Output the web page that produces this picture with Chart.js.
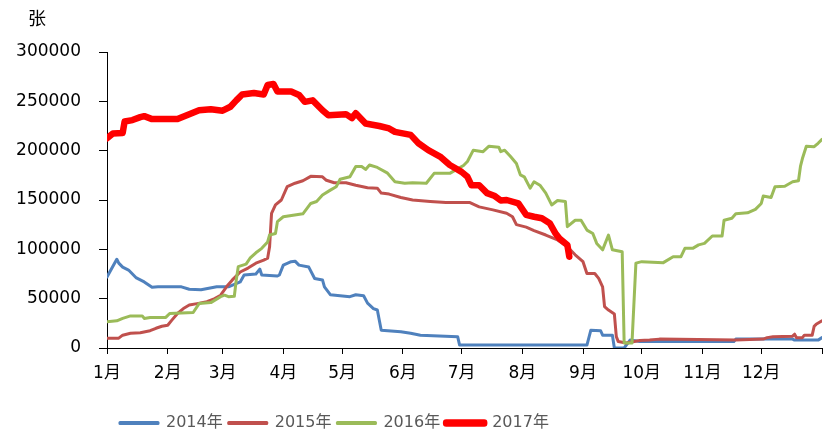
<!DOCTYPE html>
<html>
<head>
<meta charset="utf-8">
<script src="https://cdn.jsdelivr.net/npm/chart.js@4/dist/chart.umd.min.js"></script>
<style>
  html, body { margin: 0; padding: 0; background: #fff; }
</style>
</head>
<body>
<canvas id="grafico" width="836" height="430"></canvas>
<script>
// Eixo x: dia do ano (0 = 1 de janeiro)
const monthLabels = ['1月', '2月', '3月', '4月', '5月', '6月', '7月', '8月', '9月', '10月', '11月', '12月'];
const monthStarts = [0, 31, 59, 90, 120, 151, 181, 212, 243, 273, 304, 334, 365];
const yTicks = [0, 50000, 100000, 150000, 200000, 250000, 300000];
const seriesNames = ['2014年', '2015年', '2016年', '2017年'];

// [dia, valor]
const series2014 = [
    [0, 72000], [5, 90000], [6, 86000], [8, 82000], [11, 79000], [15, 71000], [19, 67000],
    [23, 61500], [26, 62000], [38, 62000], [42, 59500], [48, 59000], [52, 60500], [56, 62000],
    [62, 62000], [68, 67000], [70, 74000], [76, 75000], [78, 80000], [79, 74000], [87, 73000],
    [88, 74000], [90, 84000], [94, 87500], [96, 88000], [98, 84000], [103, 82000], [106, 70500],
    [110, 69000], [111, 62000], [114, 54000], [124, 52000], [127, 54000], [131, 53000],
    [133, 45500], [136, 40000], [138, 38500], [140, 18000], [150, 16500], [155, 15000],
    [160, 13000], [179, 11500], [180, 3000], [245, 3000], [247, 18000], [252, 17500],
    [253, 13000], [258, 13000], [259, 0], [264, 0], [267, 8000], [272, 6500], [320, 6500],
    [321, 9000], [350, 9000], [351, 8000], [363, 8000], [365, 10500]
];
const series2015 = [
    [0, 10000], [6, 10000], [8, 13000], [12, 15000], [17, 15500], [22, 17500], [25, 20000],
    [28, 22000], [31, 23000], [33, 28000], [36, 35000], [39, 40000], [42, 43500], [46, 45000],
    [51, 47000], [55, 50000], [58, 53500], [61, 62000], [64, 69000], [68, 77000], [72, 81000],
    [76, 86000], [80, 89000], [82, 91000], [83, 102500], [84, 136500], [86, 145000],
    [89, 150000], [92, 163500], [96, 167000], [100, 169500], [104, 174000], [110, 173500],
    [112, 170000], [116, 167500], [122, 167500], [127, 165000], [133, 162500], [138, 162000],
    [140, 157000], [144, 156000], [150, 152500], [156, 150000], [165, 148500], [173, 147500],
    [185, 147500], [190, 143000], [197, 140000], [204, 136500], [207, 133000], [209, 125000],
    [214, 122500], [218, 119000], [224, 114500], [230, 109500], [235, 102500], [239, 94500],
    [243, 87500], [245, 75500], [249, 75500], [251, 70500], [253, 62000], [254, 42000],
    [256, 38500], [259, 34500], [260, 11500], [261, 6500], [265, 5000], [272, 7500],
    [277, 8000], [282, 9000], [321, 8000], [335, 9000], [337, 10500], [340, 11500],
    [350, 12000], [351, 14000], [352, 10500], [355, 10500], [356, 13000], [360, 13000],
    [361, 22000], [362, 24000], [365, 27500]
];
const series2016 = [
    [0, 26500], [5, 27500], [8, 30000], [12, 32500], [18, 32500], [19, 30000], [22, 31000],
    [30, 31000], [32, 35000], [44, 36000], [47, 45000], [53, 46000], [58, 52000], [60, 53500],
    [62, 52000], [65, 52500], [66, 69000], [67, 82500], [71, 85000], [73, 91000], [76, 96500],
    [79, 101000], [82, 107500], [83, 114500], [86, 116000], [87, 128000], [90, 133000],
    [100, 136000], [104, 146500], [107, 148500], [110, 155000], [114, 160000], [117, 163500],
    [119, 171000], [124, 173500], [127, 184000], [130, 184000], [132, 181000], [134, 185500],
    [138, 183000], [143, 177500], [147, 168500], [152, 167000], [156, 167500], [163, 167000],
    [167, 177000], [175, 177000], [178, 180500], [182, 185000], [184, 189000], [187, 200500],
    [192, 199000], [195, 204500], [200, 203500], [201, 199000], [203, 200500], [206, 194000],
    [209, 187000], [211, 175500], [213, 173500], [216, 162000], [218, 168500], [221, 165000],
    [224, 157000], [227, 145000], [230, 149500], [234, 148500], [235, 123000], [239, 129500],
    [242, 129500], [245, 119500], [248, 116000], [250, 106000], [253, 99500], [256, 114500],
    [258, 99500], [263, 97500], [264, 5000], [268, 5000], [270, 86000], [273, 87500],
    [284, 86500], [289, 92500], [293, 92500], [295, 101000], [299, 101000], [302, 104500],
    [305, 106000], [309, 113500], [314, 113500], [315, 129500], [319, 131500], [321, 136000],
    [327, 137000], [331, 140500], [334, 146500], [335, 154000], [339, 152500], [341, 163500],
    [346, 164000], [350, 168500], [353, 169500], [354, 184000], [355, 192000], [357, 204500],
    [361, 204000], [363, 207500], [365, 211500]
];
const series2017 = [
    [0, 212500], [3, 217500], [8, 218000], [9, 229500], [13, 231000], [17, 234000],
    [19, 235000], [23, 232000], [36, 232000], [42, 237000], [47, 241000], [53, 242000],
    [59, 240500], [63, 244500], [66, 251000], [69, 257000], [75, 258500], [80, 257000],
    [82, 266500], [85, 267500], [87, 260000], [94, 260000], [98, 256500], [101, 249500],
    [105, 251000], [110, 241000], [113, 236000], [122, 237000], [125, 233000], [127, 238000],
    [132, 227500], [139, 225000], [144, 222500], [147, 219000], [155, 216000], [159, 207500],
    [164, 200500], [170, 194000], [175, 185500], [181, 178500], [184, 173500], [186, 165000],
    [190, 165000], [194, 157000], [198, 154000], [201, 149500], [204, 150000], [210, 146500],
    [214, 135000], [218, 133000], [222, 131500], [226, 126500], [229, 116000], [231, 111000],
    [235, 104500], [236, 92500]
];

const cores = ['#4F81BD', '#C0504D', '#9BBB59', '#FF0000'];
const espessuras = [3, 3, 3, 6.5];
const fonte = { family: '"DejaVu Sans", "Noto Sans CJK SC", sans-serif', size: 17 };

function toPoints(pares) {
    return pares.map(p => ({ x: p[0], y: p[1] }));
}

const todas = [series2014, series2015, series2016, series2017];
const datasets = todas.map((s, i) => ({
    label: seriesNames[i],
    data: toPoints(s),
    borderColor: cores[i],
    backgroundColor: cores[i],
    borderWidth: espessuras[i],
    pointRadius: 0,
    fill: false,
    tension: 0,
    borderJoinStyle: 'round',
    borderCapStyle: 'round',
    order: 3 - i // 2017 por cima
}));

// Unidade "张" no canto superior esquerdo
const unidade = {
    id: 'unidade',
    afterDraw(chart) {
        const ctx = chart.ctx;
        ctx.save();
        ctx.font = '18px "Noto Sans CJK SC"';
        ctx.fillStyle = '#000';
        ctx.textAlign = 'left';
        ctx.textBaseline = 'middle';
        ctx.fillText('张', 28, 18);
        ctx.restore();
    }
};

// Move a legenda para a posição do original
const moverLegenda = {
    id: 'moverLegenda',
    afterLayout(chart) {
        const lg = chart.legend;
        lg.left += 114; lg.right += 114;
        lg.top += 11; lg.bottom += 11;
    }
};

const ctx = document.getElementById('grafico').getContext('2d');
new Chart(ctx, {
    type: 'line',
    data: { datasets: datasets },
    plugins: [unidade, moverLegenda],
    options: {
        responsive: false,
        animation: false,
        devicePixelRatio: 1,
        layout: { padding: { top: 52, right: 14, bottom: 0, left: 0 } },
        plugins: {
            tooltip: { enabled: false },
            legend: {
                position: 'bottom',
                align: 'start',
                labels: {
                    boxWidth: 38,
                    boxHeight: 1,
                    padding: 6,
                    color: '#595959',
                    font: { family: fonte.family, size: 16 },
                    sort: (a, b) => a.datasetIndex - b.datasetIndex
                }
            }
        },
        scales: {
            x: {
                type: 'linear',
                min: 0,
                max: 365,
                afterBuildTicks: s => { s.ticks = monthStarts.map(v => ({ value: v })); },
                afterFit: s => { s.height = 50; },
                ticks: {
                    autoSkip: false,
                    maxRotation: 0,
                    padding: 9,
                    color: '#000',
                    font: fonte,
                    callback: v => {
                        const i = monthStarts.indexOf(v);
                        return i >= 0 && i < monthLabels.length ? monthLabels[i] : '';
                    }
                },
                grid: { drawOnChartArea: false, drawTicks: true, tickLength: 6, color: '#000' },
                border: { color: '#000', width: 1 }
            },
            y: {
                min: 0,
                max: 300000,
                afterBuildTicks: s => { s.ticks = yTicks.map(v => ({ value: v })); },
                afterFit: s => { s.width = 107; },
                ticks: { padding: 18, color: '#000', font: fonte, callback: v => String(v) },
                grid: { drawOnChartArea: false, drawTicks: true, tickLength: 8, color: '#000' },
                border: { color: '#000', width: 1 }
            }
        }
    }
});
</script>
</body>
</html>
